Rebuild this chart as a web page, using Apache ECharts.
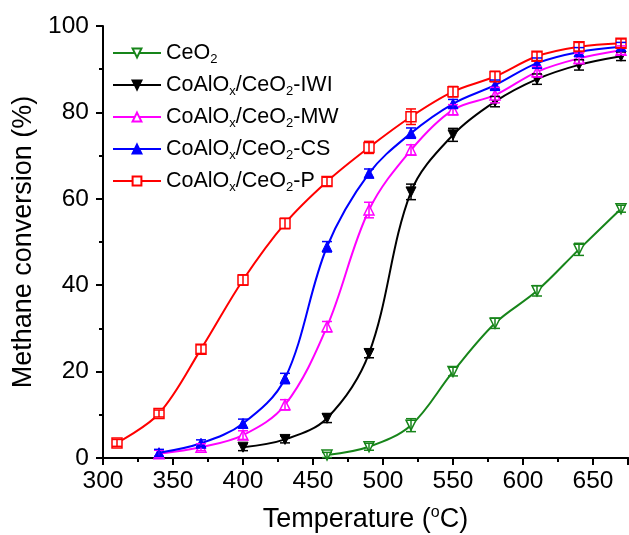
<!DOCTYPE html>
<html>
<head>
<meta charset="utf-8">
<script src="https://cdn.jsdelivr.net/npm/echarts@6/dist/echarts.min.js"></script>
<style>
  html, body { margin: 0; padding: 0; background: #fff; }
  #chart { width: 629px; height: 535px; }
</style>
</head>
<body>
<div id="chart"></div>
<script>
// temperatures (°C) for each catalyst
const tempsCe = [460, 490, 520, 550, 580, 610, 640, 670]
const tempsIWI = [400, 430, 460, 490, 520, 550, 580, 610, 640, 670]
const tempsMW = [340, 370, 400, 430, 460, 490, 520, 550, 580, 610, 640, 670]
const tempsCS = [340, 370, 400, 430, 460, 490, 520, 550, 580, 610, 640, 670]
const tempsP = [310, 340, 370, 400, 430, 460, 490, 520, 550, 580, 610, 640, 670]

// methane conversion (%)
const convCe = [0.7, 2.6, 7.6, 20.0, 31.2, 38.7, 48.3, 57.7]
const convIWI = [2.5, 4.3, 9.2, 24.2, 61.6, 74.8, 82.5, 87.7, 91.0, 93.0]
const convMW = [1.0, 2.5, 5.3, 12.3, 30.4, 57.4, 71.3, 80.6, 84.0, 89.4, 92.5, 94.4]
const convCS = [1.2, 3.4, 8.0, 18.4, 48.9, 65.9, 75.2, 82.0, 86.3, 91.4, 94.0, 95.2]
const convP = [3.5, 10.3, 25.2, 41.2, 54.3, 64.0, 71.9, 79.0, 84.8, 88.3, 93.0, 95.2, 96.0]

// error bars (±)
const errCe = [0.6, 0.8, 1.5, 1.0, 1.2, 1.2, 1.4, 0.8]
const errIWI = [0.8, 0.8, 1.0, 1.0, 1.8, 1.5, 1.2, 1.2, 1.2, 1.0]
const errMW = [0.8, 0.8, 1.0, 1.2, 1.2, 1.8, 1.2, 1.2, 1.8, 1.2, 1.2, 1.0]
const errCS = [0.8, 0.8, 1.0, 1.2, 1.2, 1.0, 1.2, 1.0, 1.2, 1.2, 1.0, 1.0]
const errP = [0.8, 0.8, 1.0, 1.2, 1.2, 1.0, 1.4, 1.8, 1.2, 1.2, 1.0, 1.0, 1.0]

const names = ['CeO2', 'CoAlOx/CeO2-IWI', 'CoAlOx/CeO2-MW', 'CoAlOx/CeO2-CS', 'CoAlOx/CeO2-P']
const legendLabels = {
  'CeO2': '{n|CeO}{s|2}',
  'CoAlOx/CeO2-IWI': '{n|CoAlO}{s|x}{n|/CeO}{s|2}{n|-IWI}',
  'CoAlOx/CeO2-MW': '{n|CoAlO}{s|x}{n|/CeO}{s|2}{n|-MW}',
  'CoAlOx/CeO2-CS': '{n|CoAlO}{s|x}{n|/CeO}{s|2}{n|-CS}',
  'CoAlOx/CeO2-P': '{n|CoAlO}{s|x}{n|/CeO}{s|2}{n|-P}'
}

const FONT = 'Liberation Sans, Arial, sans-serif'

function zip(xs, ys) {
  return xs.map((x, i) => [x, ys[i]])
}

function lineSeries(name, xs, ys, color, symbol, rotate, hollow) {
  return {
    name,
    type: 'line',
    data: zip(xs, ys),
    smooth: 0.35,
    symbol,
    symbolRotate: rotate,
    symbolSize: 10,
    lineStyle: { color, width: 2 },
    itemStyle: hollow
      ? { color: '#fff', borderColor: color, borderWidth: 1.5 }
      : { color, borderColor: color, borderWidth: 1 },
    z: 2
  }
}

function errorSeries(name, xs, ys, errs, color) {
  return {
    name: name + ' err',
    type: 'custom',
    silent: true,
    z: 3,
    data: xs.map((x, i) => [x, ys[i], errs[i]]),
    renderItem: (params, api) => {
      const x = api.value(0), y = api.value(1), e = api.value(2)
      const top = api.coord([x, y + e])
      const bot = api.coord([x, y - e])
      const hw = 5
      const style = { stroke: color, lineWidth: 1.5 }
      return {
        type: 'group',
        children: [
          { type: 'line', shape: { x1: top[0], y1: top[1], x2: bot[0], y2: bot[1] }, style },
          { type: 'line', shape: { x1: top[0] - hw, y1: top[1], x2: top[0] + hw, y2: top[1] }, style },
          { type: 'line', shape: { x1: bot[0] - hw, y1: bot[1], x2: bot[0] + hw, y2: bot[1] }, style }
        ]
      }
    }
  }
}

const green = '#17851a'
const black = '#000000'
const magenta = '#ff00ff'
const blue = '#0000ff'
const red = '#ff0000'

const chart = echarts.init(document.getElementById('chart'))

chart.setOption({
  animation: false,
  backgroundColor: '#fff',
  grid: { left: 103, right: 1, top: 26, bottom: 77, outerBoundsMode: 'none' },
  legend: {
    data: names,
    orient: 'vertical',
    left: 112,
    top: 42,
    padding: 0,
    itemWidth: 48,
    itemHeight: 11,
    itemGap: 8,
    formatter: (n) => legendLabels[n],
    textStyle: {
      fontFamily: FONT,
      rich: {
        n: { fontSize: 21.5, fontFamily: FONT, color: '#000' },
        s: { fontSize: 13, fontFamily: FONT, color: '#000', padding: [13, 0, 0, 0] }
      }
    }
  },
  xAxis: [{
    type: 'value',
    min: 300,
    max: 675,
    interval: 50,
    name: 'Temperature ({sup|o}C)',
    nameLocation: 'middle',
    nameGap: 47,
    nameTextStyle: {
      fontFamily: FONT,
      fontSize: 27,
      color: '#000',
      rich: {
        sup: { fontSize: 16, fontFamily: FONT, color: '#000', padding: [0, 0, 13, 0] }
      }
    },
    axisLine: { show: true, onZero: false, lineStyle: { color: '#000', width: 2 } },
    axisTick: { show: true, length: 7, lineStyle: { color: '#000', width: 2 } },
    minorTick: { show: true, splitNumber: 2, length: 4, lineStyle: { color: '#000', width: 2 } },
    axisLabel: { fontFamily: FONT, fontSize: 24.5, color: '#000', margin: 11, showMaxLabel: false },
    splitLine: { show: false }
  }, {
    type: 'value',
    position: 'top',
    min: 300,
    max: 675,
    axisLine: { show: true, lineStyle: { color: '#000', width: 2 } },
    axisTick: { show: false },
    axisLabel: { show: false },
    splitLine: { show: false }
  }],
  yAxis: {
    type: 'value',
    min: 0,
    max: 100,
    interval: 20,
    name: 'Methane conversion (%)',
    nameLocation: 'middle',
    nameGap: 62,
    nameTextStyle: { fontFamily: FONT, fontSize: 27, color: '#000' },
    axisLine: { show: true, lineStyle: { color: '#000', width: 2 } },
    axisTick: { show: true, length: 7, lineStyle: { color: '#000', width: 2 } },
    minorTick: { show: true, splitNumber: 2, length: 4, lineStyle: { color: '#000', width: 2 } },
    axisLabel: { fontFamily: FONT, fontSize: 24.5, color: '#000', margin: 14 },
    splitLine: { show: false }
  },
  series: [
    lineSeries(names[0], tempsCe, convCe, green, 'triangle', 180, true),
    lineSeries(names[1], tempsIWI, convIWI, black, 'triangle', 180, false),
    lineSeries(names[2], tempsMW, convMW, magenta, 'triangle', 0, true),
    lineSeries(names[3], tempsCS, convCS, blue, 'triangle', 0, false),
    lineSeries(names[4], tempsP, convP, red, 'rect', 0, true),
    errorSeries(names[0], tempsCe, convCe, errCe, green),
    errorSeries(names[1], tempsIWI, convIWI, errIWI, black),
    errorSeries(names[2], tempsMW, convMW, errMW, magenta),
    errorSeries(names[3], tempsCS, convCS, errCS, blue),
    errorSeries(names[4], tempsP, convP, errP, red)
  ]
})
</script>
</body>
</html>
